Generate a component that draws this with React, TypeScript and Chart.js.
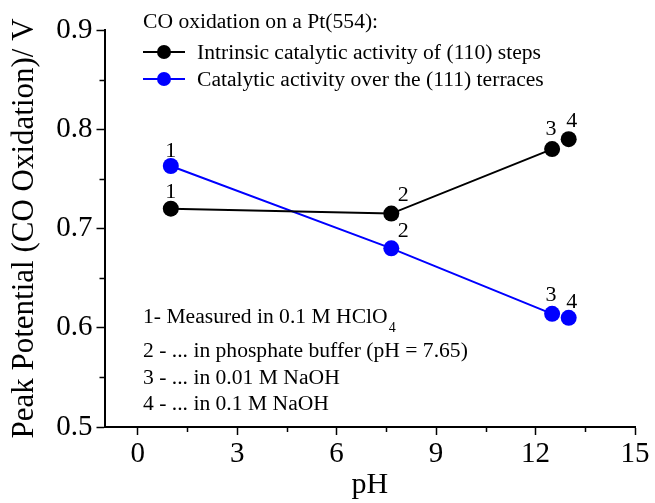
import React, { useEffect, useRef } from "react";
import { Chart, registerables } from "chart.js";

Chart.register(...registerables);

// pH of each electrolyte (points 1-4)
const pHValues = [1, 7.65, 12.5, 13];
// Peak potential of CO oxidation, V
const stepsPotential = [0.72, 0.715, 0.78, 0.79];
const terracesPotential = [0.763, 0.68, 0.614, 0.61];
const pointNumbers = ["1", "2", "3", "4"];

const seriesNames = [
  "Intrinsic catalytic activity of (110) steps",
  "Catalytic activity over the (111) terraces",
];
const seriesColors = ["#000000", "#0000ff"];
const legendTitle = "CO oxidation on a Pt(554):";

const xMajorTicks = [0, 3, 6, 9, 12, 15];
const xMinorTicks = [1.5, 4.5, 7.5, 10.5, 13.5];
const yMajorTicks = [0.5, 0.6, 0.7, 0.8, 0.9];
const yMinorTicks = [0.55, 0.65, 0.75, 0.85];

const noteLines = [
  { text: "1- Measured in 0.1 M HClO", sub: "4" },
  { text: "2 - ... in phosphate buffer (pH = 7.65)", sub: "" },
  { text: "3 - ... in 0.01 M NaOH", sub: "" },
  { text: "4 - ... in 0.1 M NaOH", sub: "" },
];

const SERIF = "'Liberation Serif', 'Times New Roman', serif";

// label offsets (dx, baseline dy) around each marker, per series
const labelOffsets = [
  [
    [0, -11],
    [12, -13],
    [-1, -14],
    [3, -12],
  ],
  [
    [0, -9],
    [12, -11],
    [-1, -13],
    [3, -10],
  ],
];

const annotationPlugin = {
  id: "annotations",
  afterDraw(chart: any) {
    const ctx = chart.ctx;
    const xs = chart.scales.x;
    const ys = chart.scales.y;
    ctx.save();

    // minor ticks
    ctx.strokeStyle = "#000";
    ctx.lineWidth = 1.5;
    ctx.beginPath();
    xMinorTicks.forEach((v) => {
      const px = Math.round(xs.getPixelForValue(v)) + 0.5;
      ctx.moveTo(px, xs.top);
      ctx.lineTo(px, xs.top + 5);
    });
    yMinorTicks.forEach((v) => {
      const py = Math.round(ys.getPixelForValue(v)) + 0.5;
      ctx.moveTo(ys.right, py);
      ctx.lineTo(ys.right - 5, py);
    });
    ctx.stroke();

    // point numbers
    ctx.fillStyle = "#000";
    ctx.font = `22px ${SERIF}`;
    ctx.textAlign = "center";
    ctx.textBaseline = "alphabetic";
    chart.data.datasets.forEach((ds: any, di: number) => {
      const meta = chart.getDatasetMeta(di);
      meta.data.forEach((pt: any, i: number) => {
        const [dx, dy] = labelOffsets[di][i];
        ctx.fillText(pointNumbers[i], pt.x + dx, pt.y + dy);
      });
    });

    // legend
    const lx = 143;
    ctx.textAlign = "left";
    ctx.font = `21.6px ${SERIF}`;
    ctx.fillText(legendTitle, lx, 28);
    const rowY = [52, 79];
    chart.data.datasets.forEach((ds: any, di: number) => {
      const y = rowY[di];
      ctx.strokeStyle = ds.borderColor;
      ctx.lineWidth = 2;
      ctx.beginPath();
      ctx.moveTo(lx, y);
      ctx.lineTo(lx + 42, y);
      ctx.stroke();
      ctx.fillStyle = ds.backgroundColor;
      ctx.beginPath();
      ctx.arc(lx + 21, y, 7, 0, Math.PI * 2);
      ctx.fill();
      ctx.fillStyle = "#000";
      ctx.textBaseline = "middle";
      ctx.fillText(ds.label, lx + 54, y + 1);
      ctx.textBaseline = "alphabetic";
    });

    // electrolyte notes
    const baselines = [323, 357, 384, 410];
    noteLines.forEach((n, i) => {
      ctx.font = `21.6px ${SERIF}`;
      ctx.fillText(n.text, lx, baselines[i]);
      if (n.sub) {
        const w = ctx.measureText(n.text).width;
        ctx.font = `14px ${SERIF}`;
        ctx.fillText(n.sub, lx + w + 1, baselines[i] + 9);
      }
    });

    ctx.restore();
  },
};

export default function App() {
  const canvasRef = useRef<HTMLCanvasElement | null>(null);

  useEffect(() => {
    if (!canvasRef.current) return;
    const makeData = (vals: number[]) => pHValues.map((x, i) => ({ x, y: vals[i] }));
    // point 4 is plotted on its own, without a connecting segment
    const hideLast = (ctx: any) => (ctx.p0DataIndex === 2 ? "rgba(0,0,0,0)" : undefined);

    const chart = new Chart(canvasRef.current, {
      type: "scatter",
      data: {
        datasets: [
          {
            label: seriesNames[0],
            data: makeData(stepsPotential),
            borderColor: seriesColors[0],
            backgroundColor: seriesColors[0],
            showLine: true,
            borderWidth: 2,
            pointRadius: 8,
            pointBorderWidth: 0,
            pointHoverRadius: 8,
            segment: { borderColor: hideLast },
          },
          {
            label: seriesNames[1],
            data: makeData(terracesPotential),
            borderColor: seriesColors[1],
            backgroundColor: seriesColors[1],
            showLine: true,
            borderWidth: 2,
            pointRadius: 8,
            pointBorderWidth: 0,
            pointHoverRadius: 8,
            segment: { borderColor: hideLast },
          },
        ],
      },
      options: {
        responsive: false,
        animation: false,
        events: [],
        layout: { padding: { top: 30, right: 20, left: 0, bottom: 0 } },
        plugins: {
          legend: { display: false },
          tooltip: { enabled: false },
        },
        scales: {
          x: {
            type: "linear",
            min: -1,
            max: 15,
            afterBuildTicks: (s: any) => {
              s.ticks = xMajorTicks.map((v) => ({ value: v }));
            },
            afterFit: (s: any) => {
              s.height = 76;
            },
            grid: {
              drawOnChartArea: false,
              drawTicks: true,
              tickLength: 8,
              tickColor: "#000",
              tickWidth: 1.5,
            },
            border: { display: true, color: "#000", width: 2 },
            ticks: {
              color: "#000",
              padding: 2,
              maxRotation: 0,
              font: { family: SERIF, size: 29 },
            },
            title: {
              display: true,
              text: "pH",
              color: "#000",
              font: { family: SERIF, size: 30, lineHeight: 1.2 },
              padding: { top: 0, bottom: 0 },
            },
          },
          y: {
            type: "linear",
            min: 0.5,
            max: 0.9,
            afterBuildTicks: (s: any) => {
              s.ticks = yMajorTicks.map((v) => ({ value: v }));
            },
            afterFit: (s: any) => {
              s.width = 104.5;
            },
            grid: {
              drawOnChartArea: false,
              drawTicks: true,
              tickLength: 8,
              tickColor: "#000",
              tickWidth: 1.5,
            },
            border: { display: true, color: "#000", width: 2 },
            ticks: {
              color: "#000",
              padding: 4,
              font: { family: SERIF, size: 29 },
              callback: (v: any) => Number(v).toFixed(1),
            },
            title: {
              display: true,
              text: "Peak Potential (CO Oxidation)/ V",
              color: "#000",
              font: { family: SERIF, size: 31, lineHeight: 1.2 },
              padding: { top: 6, bottom: 0 },
            },
          },
        },
      },
      plugins: [annotationPlugin],
    });

    return () => chart.destroy();
  }, []);

  return (
    <div style={{ position: "absolute", left: 0, top: 0, width: 655, height: 503, background: "#fff" }}>
      <canvas ref={canvasRef} width={655} height={503} style={{ display: "block" }} />
    </div>
  );
}
